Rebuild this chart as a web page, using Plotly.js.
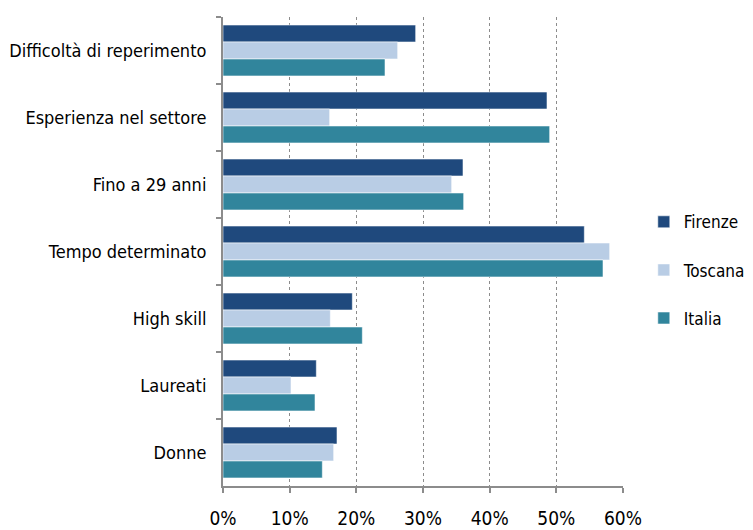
<!DOCTYPE html>
<html>
<head>
<meta charset="utf-8">
<script src="https://cdn.plot.ly/plotly-3.0.1.min.js"></script>
<style>html,body{margin:0;padding:0;background:#fff;}#chart{width:753px;height:530px;}</style>
</head>
<body>
<div id="chart"></div>
<script>
const categories = ["Difficoltà di reperimento","Esperienza nel settore","Fino a 29 anni","Tempo determinato","High skill","Laureati","Donne"];
const seriesNames = ["Firenze","Toscana","Italia"];
const firenze = [28.9, 48.6, 36.0, 54.2, 19.4, 14.0, 17.1];
const toscana = [26.2, 16.0, 34.3, 58.0, 16.1, 10.2, 16.6];
const italia  = [24.3, 49.0, 36.1, 57.0, 20.9, 13.8, 14.9];
const xTicks = [0,10,20,30,40,50,60];

const colors = ["#1F497D","#B9CDE5","#31859C"];
const values = [firenze, toscana, italia];
const font = "'Liberation Sans Narrow', 'DejaVu Sans Condensed', sans-serif";

const traces = seriesNames.map((n,i)=>({
  type:"bar", orientation:"h", name:n,
  x: values[i], y: categories,
  marker:{color:colors[i], line:{color:"rgba(255,255,255,0.55)", width:1}},
  legendgroup:n, hoverinfo:"x+y"
}));

const layout = {
  width:753, height:530,
  margin:{l:223, r:130, t:17, b:44, autoexpand:false},
  paper_bgcolor:"#fff", plot_bgcolor:"#fff",
  barmode:"group", bargap:0.24, bargroupgap:0,
  font:{family:font, size:18, color:"#000"},
  xaxis:{range:[0,60], tickvals:xTicks, ticktext:xTicks.map(v=>v+"%"),
    showgrid:true, gridcolor:"#8c8c8c", griddash:"3px,3px", gridwidth:1,
    showline:true, linecolor:"#8c8c8c", linewidth:2,
    ticks:"outside", ticklen:5, tickcolor:"#8c8c8c", tickwidth:2,
    tickfont:{size:19}, ticklabelstandoff:9, zeroline:false, fixedrange:true},
  yaxis:{autorange:"reversed", type:"category",
    showline:true, linecolor:"#8c8c8c", linewidth:2,
    ticks:"outside", ticklen:5, tickcolor:"#8c8c8c", tickwidth:2, tickson:"boundaries",
    showgrid:false, tickfont:{size:18}, ticklabelstandoff:11, fixedrange:true},
  legend:{x:1.052, xanchor:"left", y:0.46, yanchor:"middle", traceorder:"grouped",
    tracegroupgap:23, font:{size:17}, itemwidth:30, bgcolor:"rgba(0,0,0,0)"},
  showlegend:true
};

Plotly.newPlot("chart", traces, layout, {displayModeBar:false, staticPlot:true});
</script>
</body>
</html>
